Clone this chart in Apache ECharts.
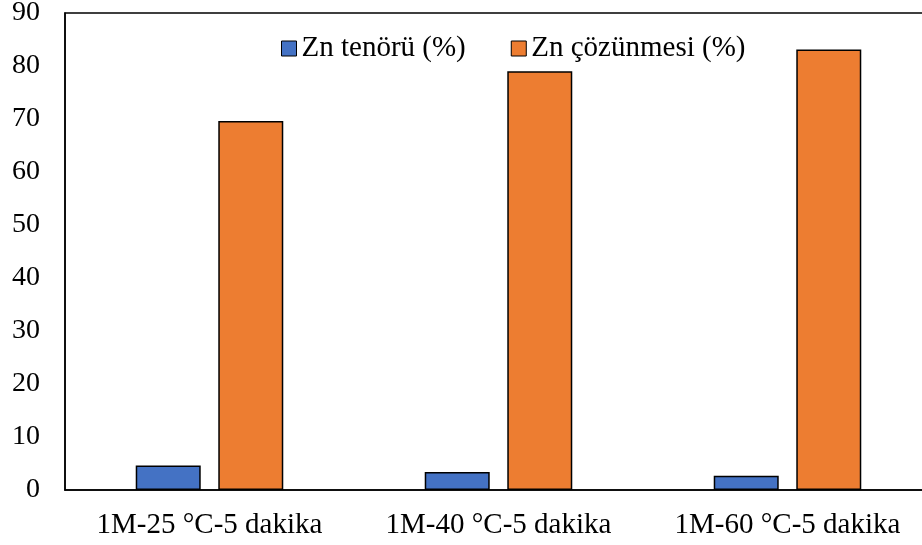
<!DOCTYPE html>
<html>
<head>
    <meta charset="utf-8">
    <script type="text/javascript" src="https://cdn.jsdelivr.net/npm/echarts@6/dist/echarts.min.js"></script>
    <title></title>
    <style>
        html, body { margin: 0; padding: 0; background: #fff; }
        #main { width: 922px; height: 545px; }
    </style>
</head>
<body>
<div id="main"></div>
<script type="text/javascript">
    // veriler
    var categories = ['1M-25 °C-5 dakika', '1M-40 °C-5 dakika', '1M-60 °C-5 dakika'];
    var seriesNames = ['Zn tenörü (%)', 'Zn çözünmesi (%)'];
    var tenor = [4.6, 3.4, 2.7];
    var cozunme = [69.6, 79.0, 83.1];

    var font = 'Liberation Serif';

    var myChart = echarts.init(document.getElementById('main'));
    var option = {
        animation: false,
        grid: {
            left: 65,
            width: 867,
            top: 13,
            bottom: 55,
            outerBoundsMode: 'none',
            containLabel: false,
            show: true,
            borderColor: '#000',
            borderWidth: 1.5,
            backgroundColor: 'transparent'
        },
        legend: {
            data: seriesNames,
            icon: 'rect',
            left: 276,
            top: 29,
            itemWidth: 15,
            itemHeight: 15,
            itemGap: 45,
            itemStyle: { borderColor: '#000', borderWidth: 1 },
            textStyle: { fontFamily: font, fontSize: 29, color: '#000', padding: [0, 0, 0, 0] }
        },
        xAxis: {
            type: 'category',
            data: categories,
            axisLine: { lineStyle: { color: '#000', width: 1.5 } },
            axisTick: { show: false },
            axisLabel: { fontFamily: font, fontSize: 29, color: '#000', margin: 21, interval: 0, hideOverlap: false }
        },
        yAxis: {
            type: 'value',
            min: 0,
            max: 90,
            interval: 10,
            axisLine: { show: true, lineStyle: { color: '#000', width: 1.5 } },
            axisTick: { show: false },
            splitLine: { show: false },
            axisLabel: { fontFamily: font, fontSize: 28, color: '#000', margin: 25 }
        },
        series: [{
            name: seriesNames[0],
            type: 'bar',
            data: tenor,
            barWidth: 65,
            barGap: '27%',
            itemStyle: { color: '#4472C4', borderColor: '#000', borderWidth: 1.5 }
        }, {
            name: seriesNames[1],
            type: 'bar',
            data: cozunme,
            barWidth: 65,
            itemStyle: { color: '#ED7D31', borderColor: '#000', borderWidth: 1.5 }
        }]
    };
    myChart.setOption(option);
</script>
</body>
</html>
